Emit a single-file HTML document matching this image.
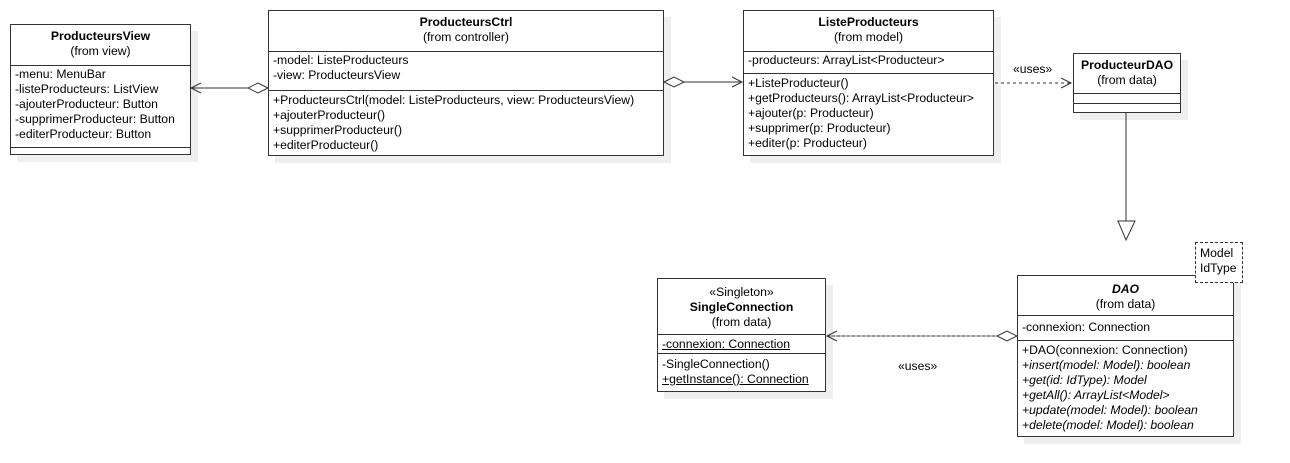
<!DOCTYPE html>
<html><head><meta charset="utf-8"><style>
body{margin:0;width:1290px;height:463px;background:#fff;position:relative;overflow:hidden;font-family:"Liberation Sans",Arial,sans-serif;font-size:12.2px;color:#000}
.b{position:absolute;background:#fff;border:1px solid #333;box-shadow:7px 7px 0 #efefef;box-sizing:border-box}
.s{border-top:1px solid #333;padding:1px 4px;line-height:15px;white-space:nowrap;box-sizing:border-box}
.h{text-align:center;line-height:15px;padding-top:4px;box-sizing:border-box}
.h b{font-weight:bold}
u{text-decoration:underline}
i{font-style:italic}
.l{position:absolute;white-space:nowrap}
svg{position:absolute;left:0;top:0}
</style></head><body>
<div class="b" style="left:10px;top:24px;width:181px;height:131px">
<div class="h" style="height:40px"><b>ProducteursView</b><br>(from view)</div>
<div class="s" style="height:82px">-menu: MenuBar<br>-listeProducteurs: ListView<br>-ajouterProducteur: Button<br>-supprimerProducteur: Button<br>-editerProducteur: Button</div>
<div class="s" style="height:8px"></div>
</div>
<div class="b" style="left:268px;top:10px;width:396px;height:146px">
<div class="h" style="height:40px"><b>ProducteursCtrl</b><br>(from controller)</div>
<div class="s" style="height:39px">-model: ListeProducteurs<br>-view: ProducteursView</div>
<div class="s" style="padding-top:2px">+ProducteursCtrl(model: ListeProducteurs, view: ProducteursView)<br>+ajouterProducteur()<br>+supprimerProducteur()<br>+editerProducteur()</div>
</div>
<div class="b" style="left:743px;top:10px;width:251px;height:146px">
<div class="h" style="height:40px"><b>ListeProducteurs</b><br>(from model)</div>
<div class="s" style="height:22px">-producteurs: ArrayList&lt;Producteur&gt;</div>
<div class="s" style="padding-top:2px">+ListeProducteur()<br>+getProducteurs(): ArrayList&lt;Producteur&gt;<br>+ajouter(p: Producteur)<br>+supprimer(p: Producteur)<br>+editer(p: Producteur)</div>
</div>
<div class="b" style="left:1073px;top:53px;width:108px;height:60px">
<div class="h" style="height:39px;padding-top:4px"><b>ProducteurDAO</b><br>(from data)</div>
<div class="s" style="height:10px"></div>
<div class="s" style="height:9px"></div>
</div>
<div class="b" style="left:1017px;top:275px;width:217px;height:162px">
<div class="h" style="height:39px;padding-top:6px"><b><i>DAO</i></b><br>(from data)</div>
<div class="s" style="height:25px;padding-top:4px">-connexion: Connection</div>
<div class="s" style="padding-top:2px">+DAO(connexion: Connection)<br><i>+insert(model: Model): boolean</i><br><i>+get(id: IdType): Model</i><br><i>+getAll(): ArrayList&lt;Model&gt;</i><br><i>+update(model: Model): boolean</i><br><i>+delete(model: Model): boolean</i></div>
</div>
<div style="position:absolute;left:1195px;top:242px;width:48px;height:41px;border:1px dashed #333;background:#fff;box-sizing:border-box;padding:3px 0 0 4px;line-height:15px">Model<br>IdType</div>
<div class="b" style="left:657px;top:278px;width:169px;height:114px">
<div class="h" style="height:55px;padding-top:6px">«Singleton»<br><b>SingleConnection</b><br>(from data)</div>
<div class="s" style="height:19px;padding-top:2px"><u>-connexion: Connection</u></div>
<div class="s" style="padding-top:3px">-SingleConnection()<br><u>+getInstance(): Connection</u></div>
</div>
<div class="l" style="left:1013px;top:62px">«uses»</div>
<div class="l" style="left:898px;top:359px">«uses»</div>
<svg width="1290" height="463" fill="none" stroke="#333" stroke-width="1">
<line x1="191" y1="88" x2="248" y2="88"/>
<polygon points="268,88 258,83 248,88 258,93" fill="#fff"/>
<polyline points="201,83 191,88 201,93"/>
<line x1="684" y1="82" x2="742" y2="82"/>
<polygon points="664,82 674,77 684,82 674,87" fill="#fff"/>
<polyline points="732,77 742,82 732,87"/>
<line x1="995" y1="83" x2="1071" y2="83" stroke-dasharray="3,3"/>
<polyline points="1061,78 1071,83 1061,88"/>
<line x1="1126" y1="113" x2="1126" y2="221"/>
<polygon points="1118,221 1135,221 1126,240" fill="#fff"/>
<line x1="827" y1="336" x2="997" y2="336" stroke-dasharray="3,2"/>
<line x1="827" y1="336" x2="997" y2="336" stroke-opacity="0.6"/>
<polygon points="1017,336 1007,331 997,336 1007,341" fill="#fff"/>
<polyline points="837,331 827,336 837,341"/>
</svg>
</body></html>
